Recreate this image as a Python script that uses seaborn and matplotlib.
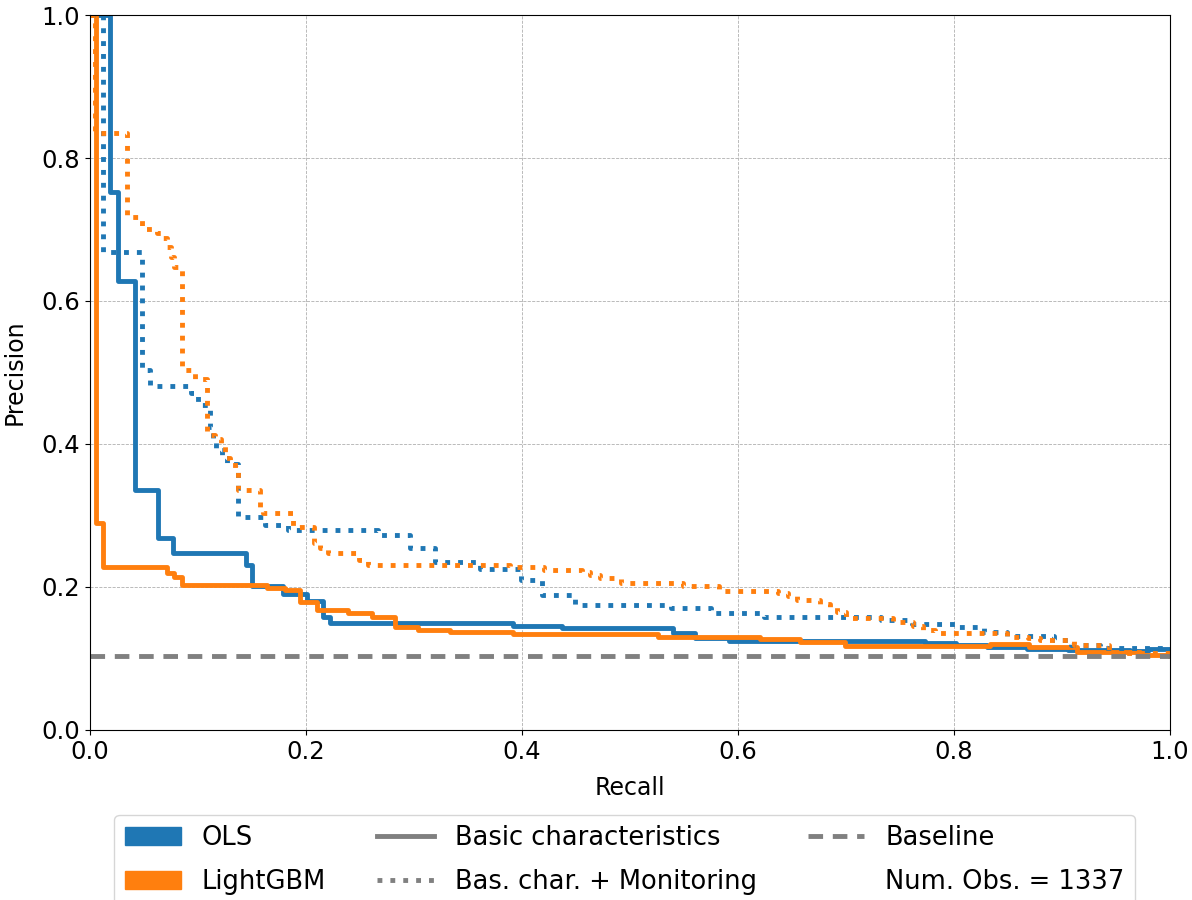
import matplotlib
matplotlib.use("Agg")
import matplotlib.pyplot as plt
from matplotlib.lines import Line2D
from matplotlib.patches import Patch
import seaborn as sns

# ---- data (step curves: recall where precision drops, precision level after drop) ----
ols_basic_recall = [0, .0185, .026, .0417, .063, .077, .144, .150, .179, .2006, .216, .222, .392, .437,
                    .540, .5605, .5917, .7728, .802, .831, .8675, .906, .963, .98, 1.0]
ols_basic_precision = [1.0, .753, .628, .336, .268, .247, .231, .2014, .19, .181, .158, .150, .1455, .143,
                       .1352, .129, .1245, .122, .119, .1156, .113, .112, .110, .113, .113]

lgbm_basic_recall = [0, .0053, .0123, .071, .078, .0855, .1636, .1806, .194, .21, .239, .261, .282, .304,
                     .333, .392, .5257, .5934, .6208, .6574, .6995, .8331, .8696, .9136, .9722, 1.0]
lgbm_basic_precision = [1.0, .289, .2275, .22, .2145, .2025, .198, .196, .1795, .168, .164, .1576, .1436, .14,
                        .1375, .134, .1296, .1305, .1273, .1235, .1175, .1203, .1165, .1095, .1049, .1035]

ols_mon_recall = [0, .0117, .0485, .056, .0935, .1003, .111, .114, .117, .122, .1265, .1367, .162, .183,
                  .267, .296, .319, .3615, .399, .419, .449, .538, .575, .624, .732, .761, .803, .828,
                  .849, .893, .908, .935, 1.0]
ols_mon_precision = [1.0, .669, .503, .481, .471, .4545, .424, .406, .392, .38, .3715, .2984, .2867, .2797,
                     .2727, .254, .2354, .2247, .21, .189, .1748, .170, .164, .1576, .154, .148, .1445, .1375,
                     .1315, .126, .119, .1143, .113]

lgbm_mon_recall = [0, .005, .0345, .048, .062, .0655, .071, .0747, .0775, .085, .097, .108, .1157, .121,
                   .125, .13, .137, .157, .16, .188, .207, .213, .22, .249, .257, .389, .42, .456, .463,
                   .472, .492, .549, .582, .637, .646, .655, .676, .685, .692, .70, .744, .762, .771, .782,
                   .849, .869, .88, .911, .944, 1.0]
lgbm_mon_precision = [1.0, .835, .718, .701, .695, .688, .675, .662, .648, .503, .491, .4126, .4066, .3986,
                      .38, .37, .335, .31, .303, .2845, .262, .254, .247, .238, .2308, .2285, .2238, .2214, .2168,
                      .213, .205, .2014, .1948, .191, .1874, .1818, .176, .1725, .1655, .156, .1515, .1455, .14,
                      .1352, .1305, .128, .126, .119, .107, .105]

baseline_recall = [0.0, 1.0]
baseline_precision = [0.1035, 0.1035]

model_names = ["OLS", "LightGBM"]
feature_sets = ["Basic characteristics", "Bas. char. + Monitoring"]
baseline_label = "Baseline"
num_obs = 1337
x_ticks = [0.0, 0.2, 0.4, 0.6, 0.8, 1.0]
y_ticks = [0.0, 0.2, 0.4, 0.6, 0.8, 1.0]

BLUE = "#1f77b4"
ORANGE = "#ff7f0e"
GRAY = "gray"

fig, ax = plt.subplots(figsize=(11.92, 9.0), dpi=100)
fig.subplots_adjust(left=0.0755, right=0.9815, bottom=0.189, top=0.9833)

LW = 3.5
common = dict(ax=ax, estimator=None, sort=False, drawstyle="steps-post", linewidth=LW, legend=False)
sns.lineplot(x=ols_basic_recall, y=ols_basic_precision, color=BLUE, linestyle="-", **common)
sns.lineplot(x=lgbm_basic_recall, y=lgbm_basic_precision, color=ORANGE, linestyle="-", **common)
sns.lineplot(x=ols_mon_recall, y=ols_mon_precision, color=BLUE, linestyle=":", **common)
sns.lineplot(x=lgbm_mon_recall, y=lgbm_mon_precision, color=ORANGE, linestyle=":", **common)
sns.lineplot(x=baseline_recall, y=baseline_precision, ax=ax, estimator=None, sort=False,
             color=GRAY, linewidth=LW, linestyle=(0, (3, 2)), legend=False)

ax.set_xlim(0, 1)
ax.set_ylim(0, 1)
ax.set_xticks(x_ticks)
ax.set_yticks(y_ticks)
ax.tick_params(labelsize=17.5)
ax.set_xlabel("Recall", fontsize=17, labelpad=9)
ax.set_ylabel("Precision", fontsize=17, labelpad=11)
ax.grid(True, linestyle="--", linewidth=0.6, color="#b0b0b0")
ax.set_axisbelow(True)

handles = [
    Patch(facecolor=BLUE, edgecolor=BLUE),
    Patch(facecolor=ORANGE, edgecolor=ORANGE),
    Line2D([], [], color=GRAY, linewidth=LW, linestyle="-"),
    Line2D([], [], color=GRAY, linewidth=LW, linestyle=":"),
    Line2D([], [], color=GRAY, linewidth=LW, linestyle=(0, (3, 2))),
    Line2D([], [], linestyle="none"),
]
labels = model_names + feature_sets + [baseline_label, f"Num. Obs. = {num_obs}"]
ax.legend(handles, labels, ncol=3, loc="upper center", bbox_to_anchor=(0.495, -0.101),
          fontsize=18.5, frameon=True, labelspacing=0.7, handlelength=2.2, columnspacing=2.0)

fig.savefig("out.png", dpi=100)
